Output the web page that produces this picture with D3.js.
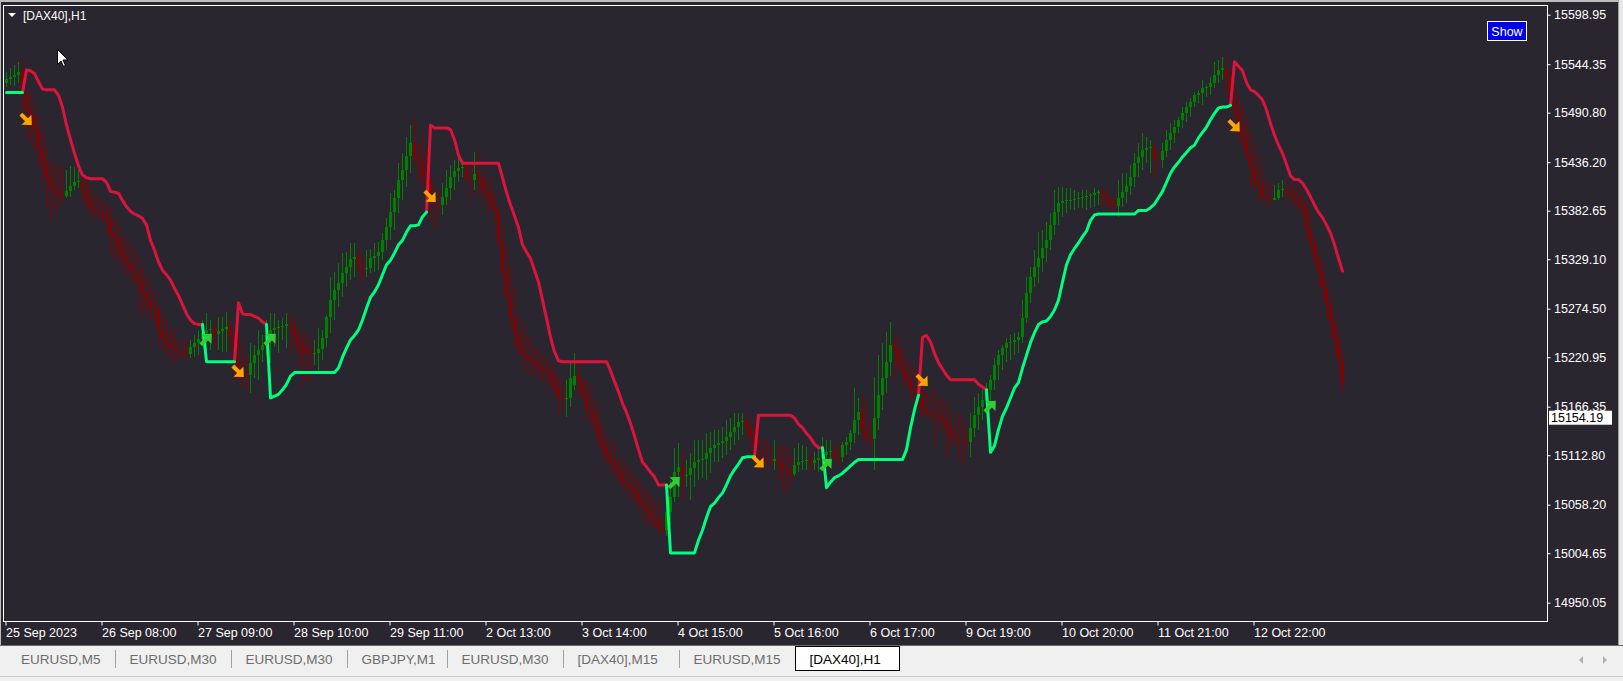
<!DOCTYPE html>
<html><head><meta charset="utf-8">
<script src="https://cdn.jsdelivr.net/npm/d3@7"></script>
<style>
html,body{margin:0;padding:0;overflow:hidden;background:#2a2630;}
svg{display:block;}
text{font-family:"Liberation Sans",Arial,sans-serif;}
</style></head><body>
<svg id="c" width="1623" height="681"></svg>
<script>
// ---------------- DATA ----------------
const openP = [
15524,15528,15530,15532,15536,15513,15494,15488,15472,15452,
15435,15420,15409,15404,15401,15399,15404,15410,15414,15415,
15407,15394,15386,15383,15381,15380,15372,15358,15353,15341,
15332,15325,15317,15314,15304,15293,15284,15275,15273,15251,
15242,15237,15232,15229,15227,15226,15225,15232,15237,15241,
15248,15251,15252,15247,15250,15252,15254,15242,15220,15210,
15204,15201,15215,15223,15229,15234,15245,15251,15253,15254,
15255,15258,15255,15243,15234,15232,15228,15224,15226,15230,
15242,15265,15284,15295,15303,15314,15321,15329,15332,15321,
15318,15319,15330,15333,15337,15350,15365,15381,15397,15417,
15428,15443,15457,15442,15436,15420,15417,15394,15391,15389,
15398,15408,15420,15427,15430,15431,15418,15416,15423,15419,
15406,15402,15391,15383,15347,15314,15287,15264,15248,15231,
15223,15221,15218,15215,15209,15207,15205,15199,15188,15177,
15175,15176,15190,15200,15194,15179,15163,15160,15148,15130,
15122,15113,15105,15100,15093,15083,15080,15077,15071,15063,
15058,15052,15045,15041,15033,15030,15050,15067,15094,15100,
15090,15091,15099,15105,15108,15109,15115,15121,15124,15126,
15128,15133,15138,15144,15149,15151,15144,15133,15113,15110,
15108,15107,15106,15109,15103,15097,15094,15092,15102,15105,
15106,15107,15104,15107,15110,15113,15116,15117,15112,15111,
15124,15127,15137,15152,15160,15141,15132,15131,15154,15179,
15198,15216,15234,15230,15215,15205,15196,15187,15183,15177,
15163,15159,15157,15156,15155,15152,15143,15133,15132,15130,
15129,15127,15143,15157,15166,15174,15185,15196,15212,15223,
15231,15237,15238,15240,15243,15264,15292,15310,15321,15330,
15341,15350,15367,15381,15391,15393,15394,15395,15396,15397,
15398,15399,15400,15402,15403,15401,15397,15389,15388,15397,
15403,15410,15420,15435,15442,15450,15452,15453,15440,15439,
15449,15461,15468,15475,15483,15490,15497,15503,15510,15513,
15518,15519,15524,15532,15538,15540,15529,15505,15494,15477,
15464,15444,15430,15413,15409,15398,15396,15395,15397,15406,
15407,15402,15400,15397,15391,15387,15361,15347,15330,15315,
15297,15279,15260,15240,15218];
const highP = [
15536,15540,15543,15547,15549,15518,15514,15501,15486,15472,
15453,15436,15435,15433,15431,15428,15432,15431,15428,15422,
15417,15409,15402,15400,15394,15391,15387,15376,15369,15358,
15350,15347,15339,15332,15321,15312,15303,15295,15281,15271,
15262,15254,15251,15240,15238,15240,15240,15245,15251,15262,
15270,15262,15259,15265,15265,15271,15264,15251,15245,15234,
15221,15237,15234,15251,15245,15262,15270,15270,15262,15264,
15270,15270,15264,15254,15248,15248,15242,15240,15253,15251,
15267,15310,15315,15325,15336,15337,15347,15347,15339,15332,
15339,15340,15347,15348,15358,15375,15402,15406,15435,15446,
15464,15477,15485,15457,15468,15450,15420,15409,15406,15413,
15428,15433,15439,15441,15436,15436,15436,15447,15450,15425,
15422,15417,15403,15387,15365,15343,15321,15298,15270,15259,
15248,15243,15232,15229,15223,15220,15216,15210,15199,15196,
15196,15215,15226,15218,15199,15196,15190,15174,15166,15148,
15137,15130,15126,15111,15108,15102,15097,15091,15086,15080,
15074,15069,15063,15060,15047,15063,15086,15121,15126,15119,
15108,15115,15130,15130,15130,15137,15138,15141,15141,15144,
15152,15154,15159,15159,15159,15159,15149,15146,15133,15130,
15130,15124,15130,15124,15122,15122,15113,15121,15126,15124,
15122,15119,15116,15124,15133,15130,15130,15126,15122,15127,
15133,15141,15187,15176,15179,15170,15152,15199,15223,15237,
15249,15260,15243,15245,15232,15221,15215,15210,15201,15193,
15185,15182,15188,15174,15177,15170,15163,15146,15159,15155,
15146,15159,15177,15182,15185,15193,15201,15220,15229,15234,
15242,15245,15248,15249,15284,15310,15321,15339,15359,15361,
15370,15380,15406,15409,15409,15408,15408,15406,15403,15406,
15406,15402,15408,15406,15408,15403,15398,15398,15417,15424,
15424,15433,15446,15457,15468,15464,15461,15456,15446,15457,
15472,15479,15483,15486,15497,15503,15507,15514,15516,15527,
15521,15530,15547,15549,15552,15555,15538,15521,15510,15499,
15488,15472,15455,15444,15433,15417,15413,15411,15413,15417,
15417,15411,15413,15409,15402,15394,15380,15356,15339,15326,
15306,15290,15268,15251,15229];
const lowP = [
15519,15521,15520,15524,15490,15461,15457,15446,15431,15413,
15387,15372,15380,15387,15391,15397,15398,15406,15408,15391,
15383,15376,15372,15372,15369,15354,15336,15328,15323,15317,
15312,15303,15301,15273,15265,15270,15262,15259,15232,15227,
15223,15218,15216,15218,15220,15218,15220,15221,15223,15234,
15223,15229,15232,15229,15227,15227,15229,15196,15196,15188,
15185,15181,15198,15196,15216,15223,15215,15232,15226,15240,
15231,15226,15229,15210,15188,15194,15194,15212,15207,15218,
15232,15248,15262,15276,15287,15298,15306,15310,15308,15304,
15310,15314,15315,15317,15328,15339,15350,15361,15380,15394,
15409,15424,15431,15413,15409,15394,15372,15363,15378,15378,
15389,15394,15406,15414,15420,15414,15394,15406,15398,15394,
15381,15381,15370,15343,15306,15284,15254,15231,15226,15212,
15204,15201,15199,15196,15192,15190,15183,15177,15157,15163,
15155,15166,15185,15179,15174,15152,15146,15137,15122,15108,
15102,15093,15089,15082,15074,15069,15063,15058,15052,15041,
15036,15033,15032,15026,15025,15024,15036,15061,15067,15063,
15078,15063,15078,15086,15088,15086,15093,15105,15105,15110,
15113,15119,15124,15130,15135,15133,15122,15104,15097,15097,
15102,15100,15097,15086,15074,15072,15080,15090,15094,15097,
15097,15094,15097,15094,15097,15102,15105,15104,15105,15105,
15113,15119,15126,15135,15130,15126,15119,15097,15141,15163,
15181,15200,15196,15207,15192,15185,15174,15170,15163,15155,
15155,15152,15122,15146,15137,15111,15122,15124,15110,15102,
15119,15111,15133,15141,15152,15159,15172,15185,15196,15207,
15216,15218,15223,15226,15237,15259,15281,15298,15303,15315,
15326,15339,15356,15367,15376,15380,15383,15383,15386,15386,
15383,15386,15387,15389,15387,15386,15381,15383,15376,15387,
15391,15400,15409,15420,15428,15435,15424,15420,15433,15430,
15442,15450,15457,15468,15474,15481,15486,15497,15501,15499,
15508,15510,15518,15524,15527,15513,15494,15483,15457,15450,
15439,15408,15406,15391,15394,15387,15391,15394,15395,15398,
15394,15389,15387,15380,15376,15350,15339,15323,15301,15284,
15264,15245,15223,15201,15181];
const closeP = [
15528,15530,15532,15536,15513,15494,15488,15472,15452,15435,
15420,15409,15404,15401,15399,15404,15410,15414,15415,15407,
15394,15386,15383,15381,15380,15372,15358,15353,15341,15332,
15325,15317,15314,15304,15293,15284,15275,15273,15251,15242,
15237,15232,15229,15227,15226,15225,15232,15237,15241,15248,
15251,15252,15247,15250,15252,15254,15242,15220,15210,15204,
15201,15215,15223,15229,15234,15245,15251,15253,15254,15255,
15258,15255,15243,15234,15226,15227,15224,15226,15230,15242,
15265,15284,15295,15303,15314,15321,15329,15332,15321,15318,
15319,15330,15333,15337,15350,15365,15381,15397,15417,15428,
15443,15457,15442,15436,15420,15417,15394,15391,15389,15398,
15408,15420,15427,15430,15431,15418,15416,15423,15419,15406,
15402,15391,15383,15347,15314,15287,15264,15248,15231,15223,
15221,15218,15215,15209,15207,15205,15199,15188,15177,15175,
15176,15198,15200,15194,15179,15163,15160,15148,15130,15122,
15113,15105,15100,15093,15083,15080,15077,15071,15063,15058,
15052,15045,15041,15033,15030,15050,15067,15094,15100,15090,
15091,15099,15105,15108,15109,15115,15121,15124,15126,15128,
15133,15138,15144,15149,15151,15144,15133,15113,15110,15108,
15107,15106,15109,15103,15097,15094,15092,15102,15105,15106,
15107,15104,15107,15110,15113,15116,15117,15112,15111,15124,
15127,15137,15152,15160,15141,15132,15131,15154,15179,15198,
15216,15234,15230,15215,15205,15196,15187,15183,15177,15163,
15159,15157,15156,15155,15152,15143,15133,15132,15130,15129,
15127,15143,15157,15166,15174,15185,15196,15212,15223,15231,
15237,15238,15240,15243,15264,15292,15310,15321,15330,15341,
15350,15367,15381,15391,15393,15394,15395,15396,15397,15398,
15399,15400,15402,15403,15401,15397,15389,15388,15397,15403,
15410,15420,15435,15442,15450,15452,15453,15440,15439,15449,
15461,15468,15475,15483,15490,15497,15503,15510,15513,15518,
15519,15524,15532,15538,15540,15529,15505,15494,15477,15464,
15444,15430,15413,15409,15398,15396,15395,15397,15406,15407,
15402,15400,15397,15391,15387,15361,15347,15330,15315,15297,
15279,15260,15240,15218,15190];

// trend lines: segments (first bar index, values per bar)
const upSegStart = [0, 49, 65, 165, 204, 245];
const upSegValues = [
 [15513,15513,15513,15513,15513],
 [15257,15216,15216,15216,15216,15216,15216,15216,15216],
 [15257,15176,15178,15180,15185,15191,15200,15204,15204,15204,15204,15204,15204,15204,15204,15204,15204,15204,
  15209,15221,15231,15240,15245,15251,15262,15275,15287,15293,15301,15312,15323,15328,15336,15345,15350,15359,15366,15366,15367,15376,15381],
 [15080,15005,15005,15005,15005,15005,15005,15005,15019,15030,15044,15056,15060,15066,15071,15080,15090,15097,15103,15110,15111,15111,15111],
 [15121,15077,15083,15088,15090,15093,15097,15101,15105,15108,15108,15108,15108,15108,15108,15108,15108,15108,15108,15108,15108,15119,15143,15163,15179],
 [15185,15116,15123,15141,15156,15165,15176,15187,15193,15209,15223,15237,15248,15257,15260,15261,15266,15273,15284,15304,15323,15334,15341,15347,15354,15360,15372,15378,
  15379,15379,15379,15379,15379,15379,15379,15379,15379,15379,
  15383,15383,15383,15386,15390,15397,15404,15414,15424,15431,15436,15442,15447,15452,15455,15463,15469,15475,15483,15490,15496,15497,15497,15499]
];
const downSegStart = [4, 57, 105, 187, 228, 306];
const downSegValues = [
 [15513,15538,15537,15534,15525,15517,15516,15516,15516,15510,15497,15477,15461,15446,15432,15422,15419,15418,15418,15418,15418,15414,15404,15403,15402,15394,15387,15382,15379,15377,15374,15367,15350,15339,15326,15317,15312,15306,15297,15289,15279,15269,15262,15258,15257,15257],
 [15216,15281,15269,15268,15268,15266,15264,15260,15257],
 [15381,15477,15474,15474,15474,15474,15472,15461,15444,15435,15435,15435,15435,15435,15435,15435,15435,15435,15435,
  15419,15403,15389,15377,15364,15345,15337,15330,15317,15304,15284,15264,15243,15227,15217,
  15216,15216,15216,15216,15216,15216,15216,15216,15216,15216,15216,15216,
  15206,15194,15183,15170,15160,15148,15134,15119,15105,15100,15094,15089,15080,15080,15080],
 [15111,15157,15157,15157,15157,15157,15157,15157,15157,15157,15154,15147,15143,15137,15132,15125,15121,15121],
 [15179,15243,15245,15238,15225,15215,15208,15201,15196,15196,15196,15196,15196,15196,15196,15191,15188,15185],
 [15499,15547,15542,15537,15524,15516,15514,15510,15505,15494,15479,15466,15455,15446,15434,15421,15417,15417,15413,15406,15398,15389,15381,15375,15367,15358,15345,15330,15316]
];
// signal arrows
const upArrowBar = [50, 66, 167, 205, 246];
const upArrowPrice = [15241, 15241, 15083, 15103, 15167];
const downArrowBar = [5, 58, 106, 188, 229, 307];
const downArrowPrice = [15483, 15205, 15398, 15105, 15195, 15476];

const priceTicks = [15598.95,15544.35,15490.80,15436.20,15382.65,15329.10,15274.50,15220.95,15166.35,15112.80,15058.20,15004.65,14950.05];
const timeTickBars = [0,24,48,72,96,120,144,168,192,216,240,264,288,312];
const timeTickLabels = ["25 Sep 2023","26 Sep 08:00","27 Sep 09:00","28 Sep 10:00","29 Sep 11:00","2 Oct 13:00","3 Oct 14:00","4 Oct 15:00","5 Oct 16:00","6 Oct 17:00","9 Oct 19:00","10 Oct 20:00","11 Oct 21:00","12 Oct 22:00"];
const currentPrice = 15154.19;
const chartTitle = "[DAX40],H1";
const tabNames = ["EURUSD,M5","EURUSD,M30","EURUSD,M30","GBPJPY,M1","EURUSD,M30","[DAX40],M15","EURUSD,M15","[DAX40],H1"];
const activeTab = 7;

// ---------------- LAYOUT / STYLE ----------------
const W = 1623, H = 681;
const BG = "#2a2630", BULL = "#008000", BEAR = "#850000";
const RED_LINE = "#dc143c", GREEN_LINE = "#00ff7f";
const plot = {l: 3.5, t: 5.5, r: 1547.5, b: 621.5};
const tabX = [2, 115.5, 231.5, 347.5, 447.5, 563.5, 679.5, 795.5, 899.5];

const N = closeP.length;
const x = d3.scaleLinear().domain([0, 1]).range([6.5, 10.5]);
const y = d3.scaleLinear().domain([14950.05, 15598.95]).range([602.7, 14.7]);

const svg = d3.select("#c");
svg.append("rect").attr("width", W).attr("height", H).attr("fill", BG);

// window edges
svg.append("rect").attr("x", 0).attr("y", 0).attr("width", W).attr("height", 2).attr("fill", "#bdbdbd");
svg.append("rect").attr("x", 0).attr("y", 0).attr("width", 1).attr("height", 646).attr("fill", "#bdbdbd");
svg.append("rect").attr("x", 1618).attr("y", 0).attr("width", 5).attr("height", 646).attr("fill", "#e6e6e6");
svg.append("rect").attr("x", 1618).attr("y", 0).attr("width", 1).attr("height", 646).attr("fill", "#a0a0a0");

// clip
svg.append("defs").append("clipPath").attr("id", "clip")
  .append("rect").attr("x", plot.l + 0.5).attr("y", plot.t + 0.5)
  .attr("width", plot.r - plot.l - 1).attr("height", plot.b - plot.t - 1);
const g = svg.append("g").attr("clip-path", "url(#clip)");

// candles
const bars = d3.range(N).map(i => ({i, o: openP[i], h: highP[i], l: lowP[i], c: closeP[i]}));
const cg = g.append("g").attr("shape-rendering", "crispEdges");
cg.selectAll("line").data(bars).join("line")
  .attr("x1", d => x(d.i)).attr("x2", d => x(d.i))
  .attr("y1", d => y(d.h)).attr("y2", d => y(d.l))
  .attr("stroke", d => d.c >= d.o ? BULL : BEAR).attr("stroke-width", 1);
cg.selectAll("rect").data(bars).join("rect")
  .attr("x", d => x(d.i) - 1.5).attr("width", 3)
  .attr("y", d => y(Math.max(d.o, d.c)))
  .attr("height", d => Math.max(1, Math.abs(y(d.o) - y(d.c))))
  .attr("fill", d => d.c >= d.o ? BULL : BEAR);

// trend lines
function toSeries(starts, vals) {
  const s = new Array(N).fill(null);
  starts.forEach((st, k) => vals[k].forEach((v, j) => { s[st + j] = v; }));
  return s;
}
const upLine = toSeries(upSegStart, upSegValues);
const downLine = toSeries(downSegStart, downSegValues);
const line = d3.line().defined(d => d != null).x((d, i) => x(i)).y(d => y(d));
g.append("path").datum(downLine).attr("d", line).attr("fill", "none")
  .attr("stroke", RED_LINE).attr("stroke-width", 3).attr("stroke-linejoin", "round").attr("stroke-linecap", "round");
g.append("path").datum(upLine).attr("d", line).attr("fill", "none")
  .attr("stroke", GREEN_LINE).attr("stroke-width", 3).attr("stroke-linejoin", "round").attr("stroke-linecap", "round");

// arrows
const arrowD = "M-8,-2 L0,-2 L0,-7 L7.5,0 L0,7 L0,2 L-8,2 Z";
g.selectAll("path.dn").data(downArrowBar.map((b, k) => ({b, p: downArrowPrice[k]}))).join("path")
  .attr("class", "dn").attr("d", arrowD).attr("fill", "#ffa500")
  .attr("transform", d => `translate(${x(d.b)},${y(d.p)}) rotate(45)`);
g.selectAll("path.up").data(upArrowBar.map((b, k) => ({b, p: upArrowPrice[k]}))).join("path")
  .attr("class", "up").attr("d", arrowD).attr("fill", "#32cd32")
  .attr("transform", d => `translate(${x(d.b)},${y(d.p)}) rotate(-45)`);

// frame
svg.append("rect").attr("x", plot.l).attr("y", plot.t)
  .attr("width", plot.r - plot.l).attr("height", plot.b - plot.t)
  .attr("fill", "none").attr("stroke", "#ffffff").attr("stroke-width", 1);

// price axis
const yAxis = d3.axisRight(y).tickValues(priceTicks).tickSize(3).tickPadding(3.5).tickFormat(d3.format(".2f"));
const ya = svg.append("g").attr("transform", `translate(${plot.r},0)`).call(yAxis);
ya.select(".domain").remove();
ya.selectAll("line").attr("stroke", "#ffffff");
ya.selectAll("text").attr("fill", "#ffffff").style("font-size", "12.5px").attr("font-family", "Liberation Sans, Arial, sans-serif");

// time axis
const xAxis = d3.axisBottom(x).tickValues(timeTickBars).tickSize(4).tickFormat((d, i) => timeTickLabels[i]);
const xa = svg.append("g").attr("transform", `translate(-1,${plot.b})`).call(xAxis);
xa.select(".domain").remove();
xa.selectAll("line").attr("stroke", "#ffffff");
xa.selectAll("text").attr("fill", "#ffffff").attr("text-anchor", "start").attr("x", 0).attr("y", 7)
  .style("font-size", "12.5px").attr("font-family", "Liberation Sans, Arial, sans-serif");

// current price label
const cy = y(currentPrice);
svg.append("rect").attr("x", 1549).attr("y", cy - 7).attr("width", 63).attr("height", 14).attr("fill", "#ffffff");
svg.append("text").attr("x", 1551).attr("y", cy + 4.5).attr("fill", "#000000").style("font-size", "12.5px").text(d3.format(".2f")(currentPrice));

// title
svg.append("path").attr("d", "M8,13 L16,13 L12,17 Z").attr("fill", "#ffffff");
svg.append("text").attr("x", 23).attr("y", 19.5).attr("fill", "#ffffff").style("font-size", "12px").text(chartTitle);

// Show button
svg.append("rect").attr("x", 1487.5).attr("y", 21.5).attr("width", 39).attr("height", 19)
  .attr("fill", "#0000e6").attr("stroke", "#ffffff").attr("stroke-width", 1);
svg.append("text").attr("x", 1507).attr("y", 35.5).attr("text-anchor", "middle").attr("fill", "#ffffff").style("font-size", "12.5px").text("Show");

// mouse cursor
svg.append("path").attr("d", "M0,0 L0,15 L3.5,11.5 L6,17 L8,16 L5.5,10.5 L10.5,10.5 Z")
  .attr("transform", "translate(57.5,49.5)").attr("fill", "#ffffff").attr("stroke", "#000000").attr("stroke-width", 1);

// tab bar
svg.append("rect").attr("x", 0).attr("y", 646).attr("width", W).attr("height", 35).attr("fill", "#f0f0f0");
svg.append("rect").attr("x", 0).attr("y", 645).attr("width", W).attr("height", 1).attr("fill", "#6a6a6a");
svg.append("rect").attr("x", 0).attr("y", 676).attr("width", W).attr("height", 1).attr("fill", "#c8c8c8");
tabNames.forEach((name, k) => {
  const x0 = tabX[k], x1 = tabX[k + 1];
  if (k === activeTab) {
    svg.append("rect").attr("x", x0).attr("y", 646.5).attr("width", x1 - x0).attr("height", 24)
      .attr("fill", "#ffffff").attr("stroke", "#000000").attr("stroke-width", 1);
  } else if (k + 1 !== activeTab) {
    svg.append("rect").attr("x", x1 - 0.5).attr("y", 650).attr("width", 1).attr("height", 18).attr("fill", "#a0a0a0");
  }
  svg.append("text").attr("x", x0 + (k === 0 ? 19 : 14)).attr("y", 664)
    .attr("fill", k === activeTab ? "#000000" : "#6d6d6d").style("font-size", "13.5px").text(name);
});
svg.append("path").attr("d", "M1583,656 L1579,660 L1583,664 Z").attr("fill", "#b0b0b0");
svg.append("path").attr("d", "M1603,656 L1607,660 L1603,664 Z").attr("fill", "#b0b0b0");
</script>
</body></html>
